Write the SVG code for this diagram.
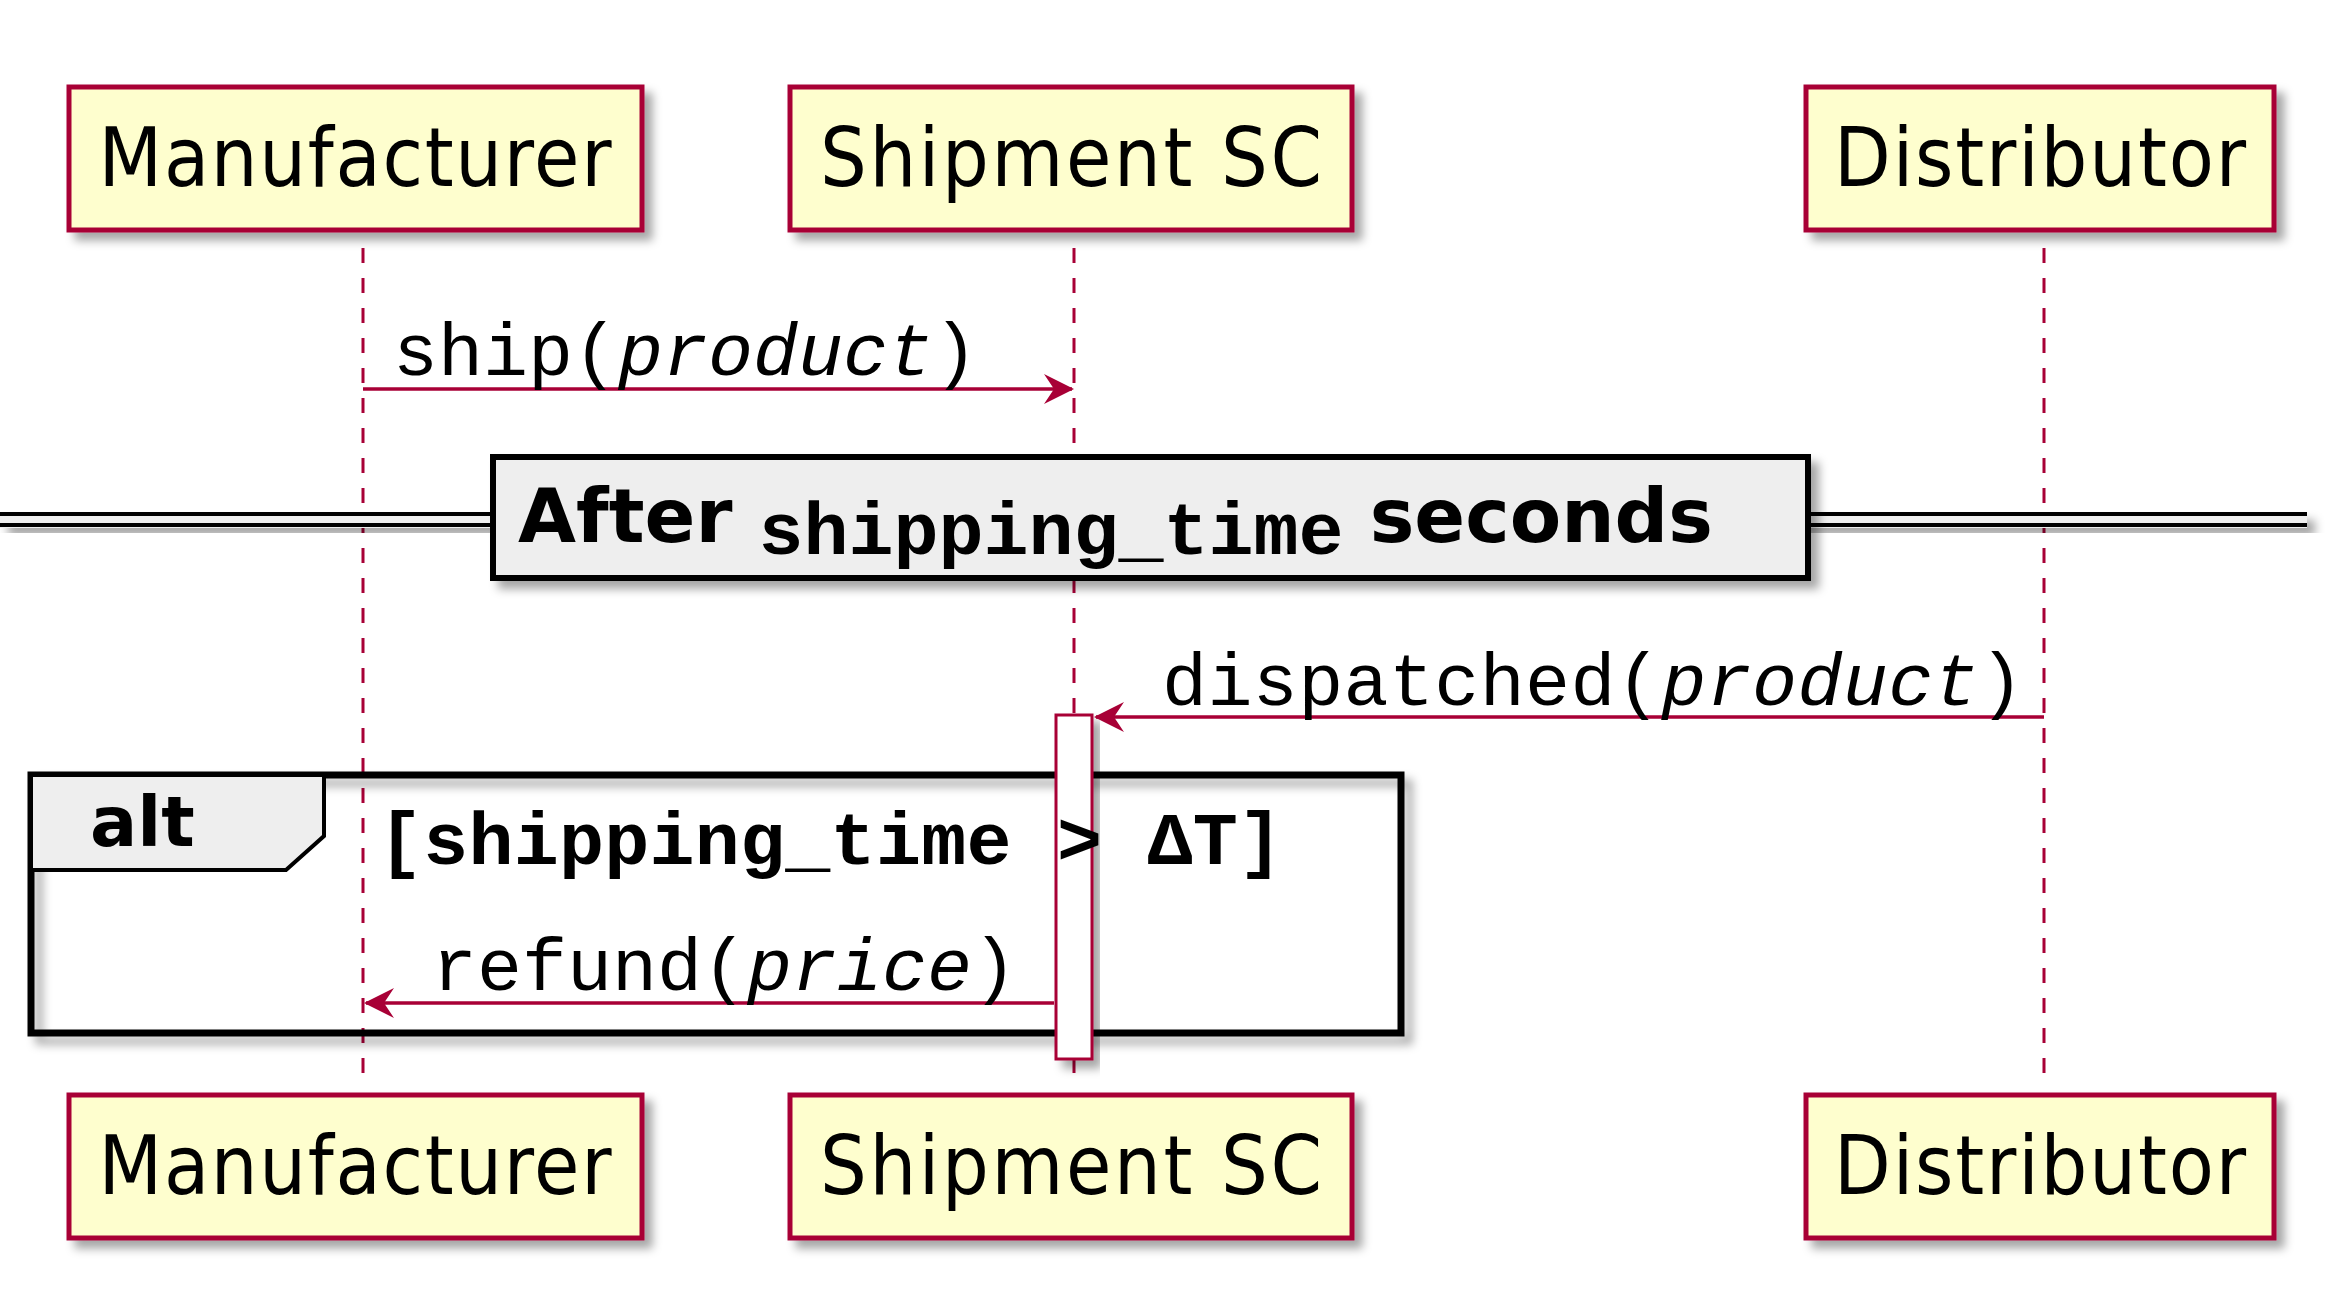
<svg xmlns="http://www.w3.org/2000/svg" width="2341" height="1311" viewBox="0 0 2341 1311">
<style>
.p{fill:#FEFECE;stroke:#A80036;stroke-width:5}
.pt{font-family:"DejaVu Sans Condensed","DejaVu Sans",sans-serif;font-size:82px;fill:#000}
.ll{stroke:#A80036;stroke-width:3;stroke-dasharray:15,15;fill:none}
.m{stroke:#A80036;stroke-width:3.5;fill:none}
.mt{font-family:"Liberation Mono",monospace;font-size:75px;fill:#000}
.bm{font-family:"Liberation Mono",monospace;font-weight:bold;fill:#000}
.bs{font-family:"DejaVu Sans","Liberation Sans",sans-serif;font-weight:bold;fill:#000}
</style>
<defs>
<filter id="sh" x="-10%" y="-10%" width="130%" height="140%"><feDropShadow dx="8" dy="8" stdDeviation="5" flood-color="#000" flood-opacity="0.35"/></filter>
<marker id="ah" viewBox="0 0 30 30" refX="28" refY="15" markerWidth="30" markerHeight="30" markerUnits="userSpaceOnUse" orient="auto-start-reverse"><path d="M0,0 L30,15 L0,30 L10,15 Z" fill="#A80036"/></marker>
</defs>
<g id="lifelines">
<line class="ll" x1="363" y1="248" x2="363" y2="1077"/>
<line class="ll" x1="1074" y1="248" x2="1074" y2="1077"/>
<line class="ll" x1="2044" y1="248" x2="2044" y2="1077"/>
</g>
<g id="p-manufacturer"><rect class="p" x="69" y="87" width="573" height="143" filter="url(#sh)"/><text class="pt" x="355" y="186" text-anchor="middle" textLength="513">Manufacturer</text></g>
<g id="p-shipment"><rect class="p" x="790" y="87" width="562" height="143" filter="url(#sh)"/><text class="pt" x="1071" y="186" text-anchor="middle" textLength="502">Shipment SC</text></g>
<g id="p-distributor"><rect class="p" x="1806" y="87" width="468" height="143" filter="url(#sh)"/><text class="pt" x="2040" y="186" text-anchor="middle" textLength="412">Distributor</text></g>
<g id="p-manufacturer-b"><rect class="p" x="69" y="1095" width="573" height="143" filter="url(#sh)"/><text class="pt" x="355" y="1194" text-anchor="middle" textLength="513">Manufacturer</text></g>
<g id="p-shipment-b"><rect class="p" x="790" y="1095" width="562" height="143" filter="url(#sh)"/><text class="pt" x="1071" y="1194" text-anchor="middle" textLength="502">Shipment SC</text></g>
<g id="p-distributor-b"><rect class="p" x="1806" y="1095" width="468" height="143" filter="url(#sh)"/><text class="pt" x="2040" y="1194" text-anchor="middle" textLength="412">Distributor</text></g>
<g id="divider">
<rect x="0" y="512" width="2307" height="16" fill="#EEEEEE" filter="url(#sh)"/>
<line x1="0" y1="514" x2="2307" y2="514" stroke="#000" stroke-width="4"/>
<line x1="0" y1="525" x2="2307" y2="525" stroke="#000" stroke-width="4"/>
<rect x="493" y="457" width="1315" height="121" fill="#EEEEEE" stroke="#000" stroke-width="6" filter="url(#sh)"/>
<text x="518" y="542" font-size="75"><tspan class="bs">After </tspan><tspan class="bm" dy="12">shipping_time</tspan><tspan class="bs" dy="-12"> seconds</tspan></text>
</g>
<g id="alt">
<rect x="31" y="775" width="1370" height="258" fill="none" stroke="#000" stroke-width="7" filter="url(#sh)"/>
<path d="M31,775 L324,775 L324,836 L286,870 L31,870 Z" fill="#EEEEEE" stroke="#000" stroke-width="4"/>
<text class="bs" x="90" y="846" font-size="70">alt</text>
</g>
<g id="activation"><rect x="1056" y="715" width="36" height="344" fill="#FFFFFF" stroke="#A80036" stroke-width="3" filter="url(#sh)"/></g>
<text class="bm" x="378" y="864" font-size="75" textLength="905">[shipping_time &gt; ΔT]</text>
<g id="connectors">
<line class="m" x1="363" y1="389" x2="1072" y2="389" marker-end="url(#ah)"/>
<text class="mt" x="393" y="375" textLength="585">ship(<tspan font-style="italic">product</tspan>)</text>
<line class="m" x1="2044" y1="717" x2="1096" y2="717" marker-end="url(#ah)"/>
<text class="mt" x="1162" y="705" textLength="862">dispatched(<tspan font-style="italic">product</tspan>)</text>
<line class="m" x1="1054" y1="1003" x2="366" y2="1003" marker-end="url(#ah)"/>
<text class="mt" x="432" y="990" textLength="585">refund(<tspan font-style="italic">price</tspan>)</text>
</g>
</svg>
